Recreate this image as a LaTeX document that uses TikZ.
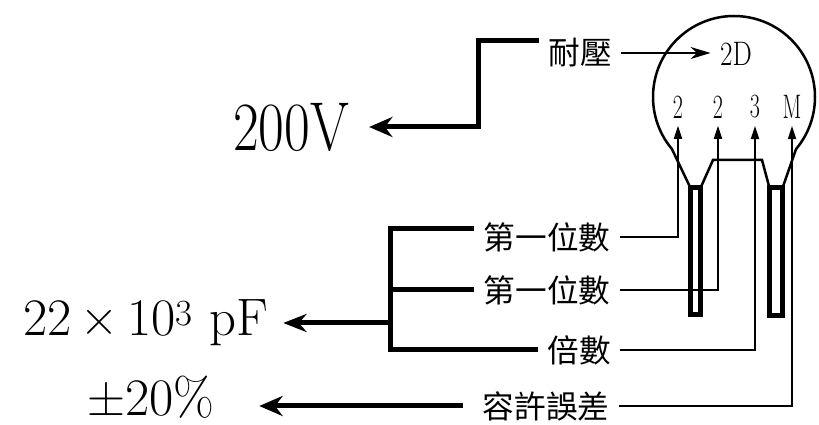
\documentclass[tikz,border=0pt]{standalone}
\usepackage{fontspec, tikz}
\usetikzlibrary{arrows.meta, calc}
\newfontfamily\cjk{Noto Sans CJK TC}

\begin{document}
\begin{tikzpicture}[x=0.3mm, y=-0.3mm,
        heavy/.style = {line width = 1.5mm},
        wire/.style = {line width = 0.6mm},
        tag/.style = {font = \cjk\fontsize{27}{27}\selectfont, inner sep = 0pt, inner xsep = 8pt},
        big/.style = {font = \fontsize{45}{45}\selectfont, inner sep = 0pt},
        code/.style = {font = \fontsize{29}{29}\selectfont, inner sep = 0pt}]
    \useasboundingbox (0,0) rectangle (819,425);
    \coordinate (disc) at (734,97);
    \draw [line width = 0.75mm] (690.5,188) -- ($(disc)+(140:81)$) arc [start angle = 140, end angle = 400, radius = 81] -- (782.5,188);
    \draw [line width = 0.75mm] (700.5,188) -- (713,160) -- (762,160) -- (769.5,188);
    \draw [heavy] (690.5,188) rectangle (700.5,315);
    \draw [heavy] (769.5,188) rectangle (782.5,316);
    \node [code] (m1) at (678,107) {\scalebox{0.65}[1]{2}};
    \node [code] (m2) at (718,107) {\scalebox{0.65}[1]{2}};
    \node [code] (m3) at (755,107) {\scalebox{0.65}[1]{3}};
    \node [code] (m4) at (792,107) {\scalebox{0.65}[1]{M}};
    \node [code] (cd) at (736,54) {\scalebox{0.8}[1]{2D}};
    \node [tag] (nai) at (580,53) {耐壓};
    \node [tag] (d1) at (547,237) {第一位數};
    \node [tag] (d2) at (547,290) {第一位數};
    \node [tag] (mul) at (579,350) {倍數};
    \node [tag] (tol) at (546,406) {容許誤差};
    \node [big, font = \fontsize{59}{59}\selectfont] (volt) at (291,127) {\scalebox{0.81}[1]{200V}};
    \node [big, anchor = east] (cap) at (268,323) {22\,×\,10\textsuperscript{3} pF};
    \node [big] (pct) at (151,397) {±20\%};
    % voltage rating
    \coordinate (jog) at (478,0);
    \draw [wire, -{Stealth[length = 6mm, width = 3.6mm]}, shorten >= 8pt] (nai.east) -- (nai.east -| cd.west);
    \draw [heavy, -{Stealth[length = 7mm, width = 6mm]}, shorten >= 17pt] ([yshift = 11pt]nai.west) -| (jog |- volt.east) -- (volt.east);
    % capacitance and tolerance
    \coordinate (fork) at (390,323);
    \draw [heavy] ([yshift = 7pt]d1.west) -| (fork) |- (mul.west);
    \draw [heavy] (d2.west) -- (d2.west -| fork);
    \draw [heavy, -{Stealth[length = 7mm, width = 5.4mm]}, shorten >= 13pt] (fork) -- (fork -| cap.east);
    \draw [heavy, -{Stealth[length = 7mm, width = 6mm]}, shorten >= 38pt, shorten <= 9pt] (tol.west) -- (tol.west -| pct.east);
    \draw [wire, -{Triangle[length = 4mm, width = 2.4mm]}, shorten >= 6pt] (d1.east) -| (m1.south);
    \draw [wire, -{Triangle[length = 4mm, width = 2.4mm]}, shorten >= 6pt] (d2.east) -| (m2.south);
    \draw [wire, -{Triangle[length = 4mm, width = 2.4mm]}, shorten >= 6pt] (mul.east) -| (m3.south);
    \draw [wire, -{Triangle[length = 4mm, width = 2.4mm]}, shorten >= 6pt] (tol.east) -| (m4.south);
\end{tikzpicture}
\end{document}
